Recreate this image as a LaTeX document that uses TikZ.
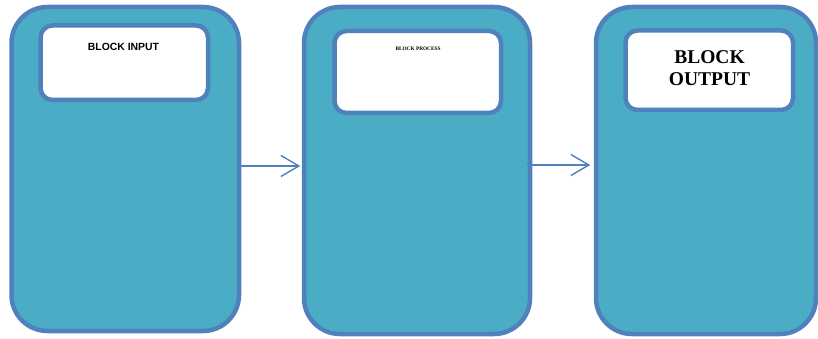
\documentclass[tikz,border=0pt]{standalone}
\usepackage{fontspec}
\setmainfont{Liberation Serif}
\setsansfont{Liberation Sans}
\usetikzlibrary{arrows.meta}
\definecolor{bordblue}{HTML}{4F81BD}
\definecolor{tealfill}{HTML}{4BACC6}
\begin{document}
\begin{tikzpicture}[x=1pt,y=-1pt,
  bigbox/.style={draw=bordblue, fill=tealfill, line width=4.5pt, rounded corners=36pt, rectangle, inner sep=0pt},
  innerbox/.style={draw=bordblue, fill=white, line width=4.5pt, rounded corners=12pt, rectangle, inner sep=0pt},
  lbl/.style={anchor=base, inner sep=0pt, align=center},
  arr/.style={draw=bordblue, line width=1.4pt, -{Straight Barb[length=18pt,width=21pt]}}]
\useasboundingbox (0,0) rectangle (818,339);
% big boxes
\node[bigbox, minimum width=227.5pt, minimum height=324pt] (box1) at (125.25,169) {};
\node[bigbox, minimum width=226pt, minimum height=327pt] (box2) at (417,170.5) {};
\node[bigbox, minimum width=220pt, minimum height=327pt] (box3) at (706,170.5) {};
% inner boxes
\node[innerbox, minimum width=167.5pt, minimum height=74.5pt] (in1) at (124.25,62.75) {};
\node[innerbox, minimum width=166.5pt, minimum height=82pt] (in2) at (417.75,72) {};
\node[innerbox, minimum width=167.5pt, minimum height=79.5pt] (in3) at (709.25,70.25) {};
% labels
\node[lbl, font=\sffamily\bfseries\fontsize{10.4}{12}\selectfont] (t1) at (123.5,51) {BLOCK INPUT};
\node[lbl, font=\rmfamily\bfseries\fontsize{5.3}{6}\selectfont] (t2) at (418,50.5) {BLOCK PROCESS};
\node[lbl, font=\rmfamily\bfseries\fontsize{19.5}{21.5}\selectfont] (t3) at (709.5,85.5) {BLOCK\\OUTPUT};
% arrows
\coordinate (a1) at (0,166);
\coordinate (a2s) at (527,165);
\draw[arr] (box1.east |- a1) -- ([xshift=-1.5pt]box2.west |- a1);
\draw[arr] (a2s) -- ([xshift=-3.5pt]box3.west |- a2s);
\end{tikzpicture}
\end{document}
